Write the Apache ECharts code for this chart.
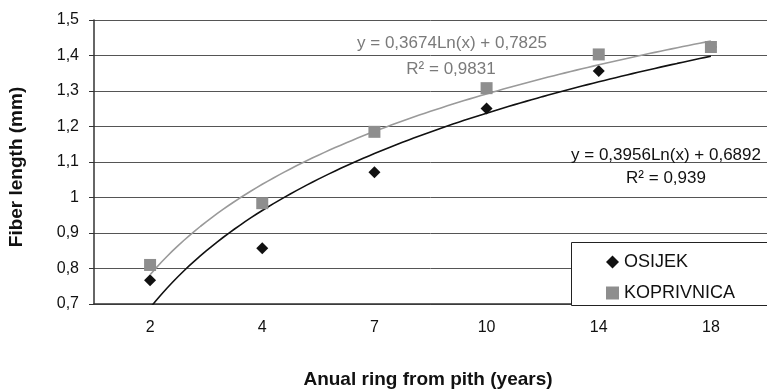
<!DOCTYPE html>
<html>
<head>
<meta charset="utf-8">
<script src="https://cdn.jsdelivr.net/npm/echarts@6/dist/echarts.min.js"></script>
<style>
  html, body { margin: 0; padding: 0; background: #fff; }
  #main { width: 767px; height: 389px; }
</style>
</head>
<body>
<div id="main"></div>
<script>
  // categories on the x axis (annual ring from pith)
  var rings = ['2', '4', '7', '10', '14', '18'];
  // fibre length, mm (the last OSIJEK point sits under the KOPRIVNICA square)
  var osijek = [0.767, 0.857, 1.071, 1.251, 1.356, 1.424];
  var koprivnica = [0.81, 0.984, 1.185, 1.308, 1.403, 1.424];
  // trendline coefficients as printed on the chart: y = a*Ln(x) + b
  var osijekTrend = { a: 0.3956, b: 0.6892 };
  var koprivnicaTrend = { a: 0.3674, b: 0.7825 };
  var yTicks = { min: 0.7, max: 1.5, step: 0.1 };

  var font = '"Liberation Sans", Arial, sans-serif';

  // points along the printed log trendline, x = category index 1..6
  function trendPoints(t) {
    var pts = [];
    for (var x = 1; x <= rings.length + 0.0001; x += 0.05) {
      pts.push([x, t.a * Math.log(x) + t.b]);
    }
    return pts;
  }

  var myChart = echarts.init(document.getElementById('main'));

  var option = {
    animation: false,
    backgroundColor: '#fff',
    grid: { left: 94, top: 20, right: -6, bottom: 85 },
    xAxis: [
      {
        type: 'category',
        data: rings,
        boundaryGap: true,
        axisLine: { lineStyle: { color: '#333', width: 1.5 } },
        axisTick: { length: 5, lineStyle: { color: '#333' } },
        axisLabel: { color: '#111', fontSize: 16, fontFamily: font, margin: 16 },
        splitLine: { show: false }
      },
      {
        type: 'value',
        min: 0.5,
        max: 6.5,
        show: false,
        splitLine: { show: false }
      }
    ],
    yAxis: {
      type: 'value',
      min: yTicks.min,
      max: yTicks.max,
      interval: yTicks.step,
      axisLine: { show: true, lineStyle: { color: '#333', width: 1.5 } },
      axisTick: { show: true, length: 5, lineStyle: { color: '#333' } },
      axisLabel: {
        color: '#111', fontSize: 16, fontFamily: font, margin: 15,
        formatter: function (v) { return String(Math.round(v * 10) / 10).replace('.', ','); }
      },
      splitLine: { lineStyle: { color: '#555', width: 1 } }
    },
    legend: {
      left: 601,
      top: 248,
      orient: 'vertical',
      itemWidth: 13,
      itemHeight: 13,
      itemGap: 13,
      textStyle: { color: '#111', fontSize: 18, lineHeight: 18, fontFamily: font },
      data: [
        { name: 'OSIJEK', icon: 'diamond' },
        { name: 'KOPRIVNICA', icon: 'rect' }
      ]
    },
    series: [
      {
        name: 'OSIJEK',
        type: 'scatter',
        symbol: 'diamond',
        symbolSize: 12,
        itemStyle: { color: '#111', opacity: 1 },
        data: osijek,
        z: 2
      },
      {
        name: 'KOPRIVNICA',
        type: 'scatter',
        symbol: 'rect',
        symbolSize: 12,
        itemStyle: { color: '#8e8e8e', opacity: 1 },
        data: koprivnica,
        z: 5
      },
      {
        name: 'osijek trend',
        type: 'line',
        xAxisIndex: 1,
        showSymbol: false,
        silent: true,
        lineStyle: { color: '#111', width: 1.6 },
        data: trendPoints(osijekTrend),
        z: 3
      },
      {
        name: 'koprivnica trend',
        type: 'line',
        xAxisIndex: 1,
        showSymbol: false,
        silent: true,
        lineStyle: { color: '#9a9a9a', width: 1.6 },
        data: trendPoints(koprivnicaTrend),
        z: 3
      }
    ],
    graphic: [
      // legend frame
      {
        type: 'rect', z: 3,
        shape: { x: 571.5, y: 242.5, width: 220, height: 63 },
        style: { fill: '#fff', stroke: '#222', lineWidth: 1 }
      },
      // trendline equations
      {
        type: 'text', x: 452, y: 43, z: 6,
        style: { text: 'y = 0,3674Ln(x) + 0,7825', fill: '#7a7a7a', font: '17px ' + font, textAlign: 'center', textVerticalAlign: 'middle' }
      },
      {
        type: 'text', x: 451, y: 69, z: 6,
        style: { text: 'R² = 0,9831', fill: '#7a7a7a', font: '17px ' + font, textAlign: 'center', textVerticalAlign: 'middle' }
      },
      {
        type: 'text', x: 666, y: 155, z: 6,
        style: { text: 'y = 0,3956Ln(x) + 0,6892', fill: '#111', font: '17px ' + font, textAlign: 'center', textVerticalAlign: 'middle' }
      },
      {
        type: 'text', x: 666, y: 178, z: 6,
        style: { text: 'R² = 0,939', fill: '#111', font: '17px ' + font, textAlign: 'center', textVerticalAlign: 'middle' }
      },
      // axis titles
      {
        type: 'text', x: 428, y: 380, z: 6,
        style: { text: 'Anual ring from pith (years)', fill: '#111', font: 'bold 19px ' + font, textAlign: 'center', textVerticalAlign: 'middle' }
      },
      {
        type: 'text', x: 17, y: 167, z: 6, rotation: Math.PI / 2,
        style: { text: 'Fiber length (mm)', fill: '#111', font: 'bold 19px ' + font, textAlign: 'center', textVerticalAlign: 'middle' }
      }
    ]
  };

  myChart.setOption(option);
</script>
</body>
</html>
